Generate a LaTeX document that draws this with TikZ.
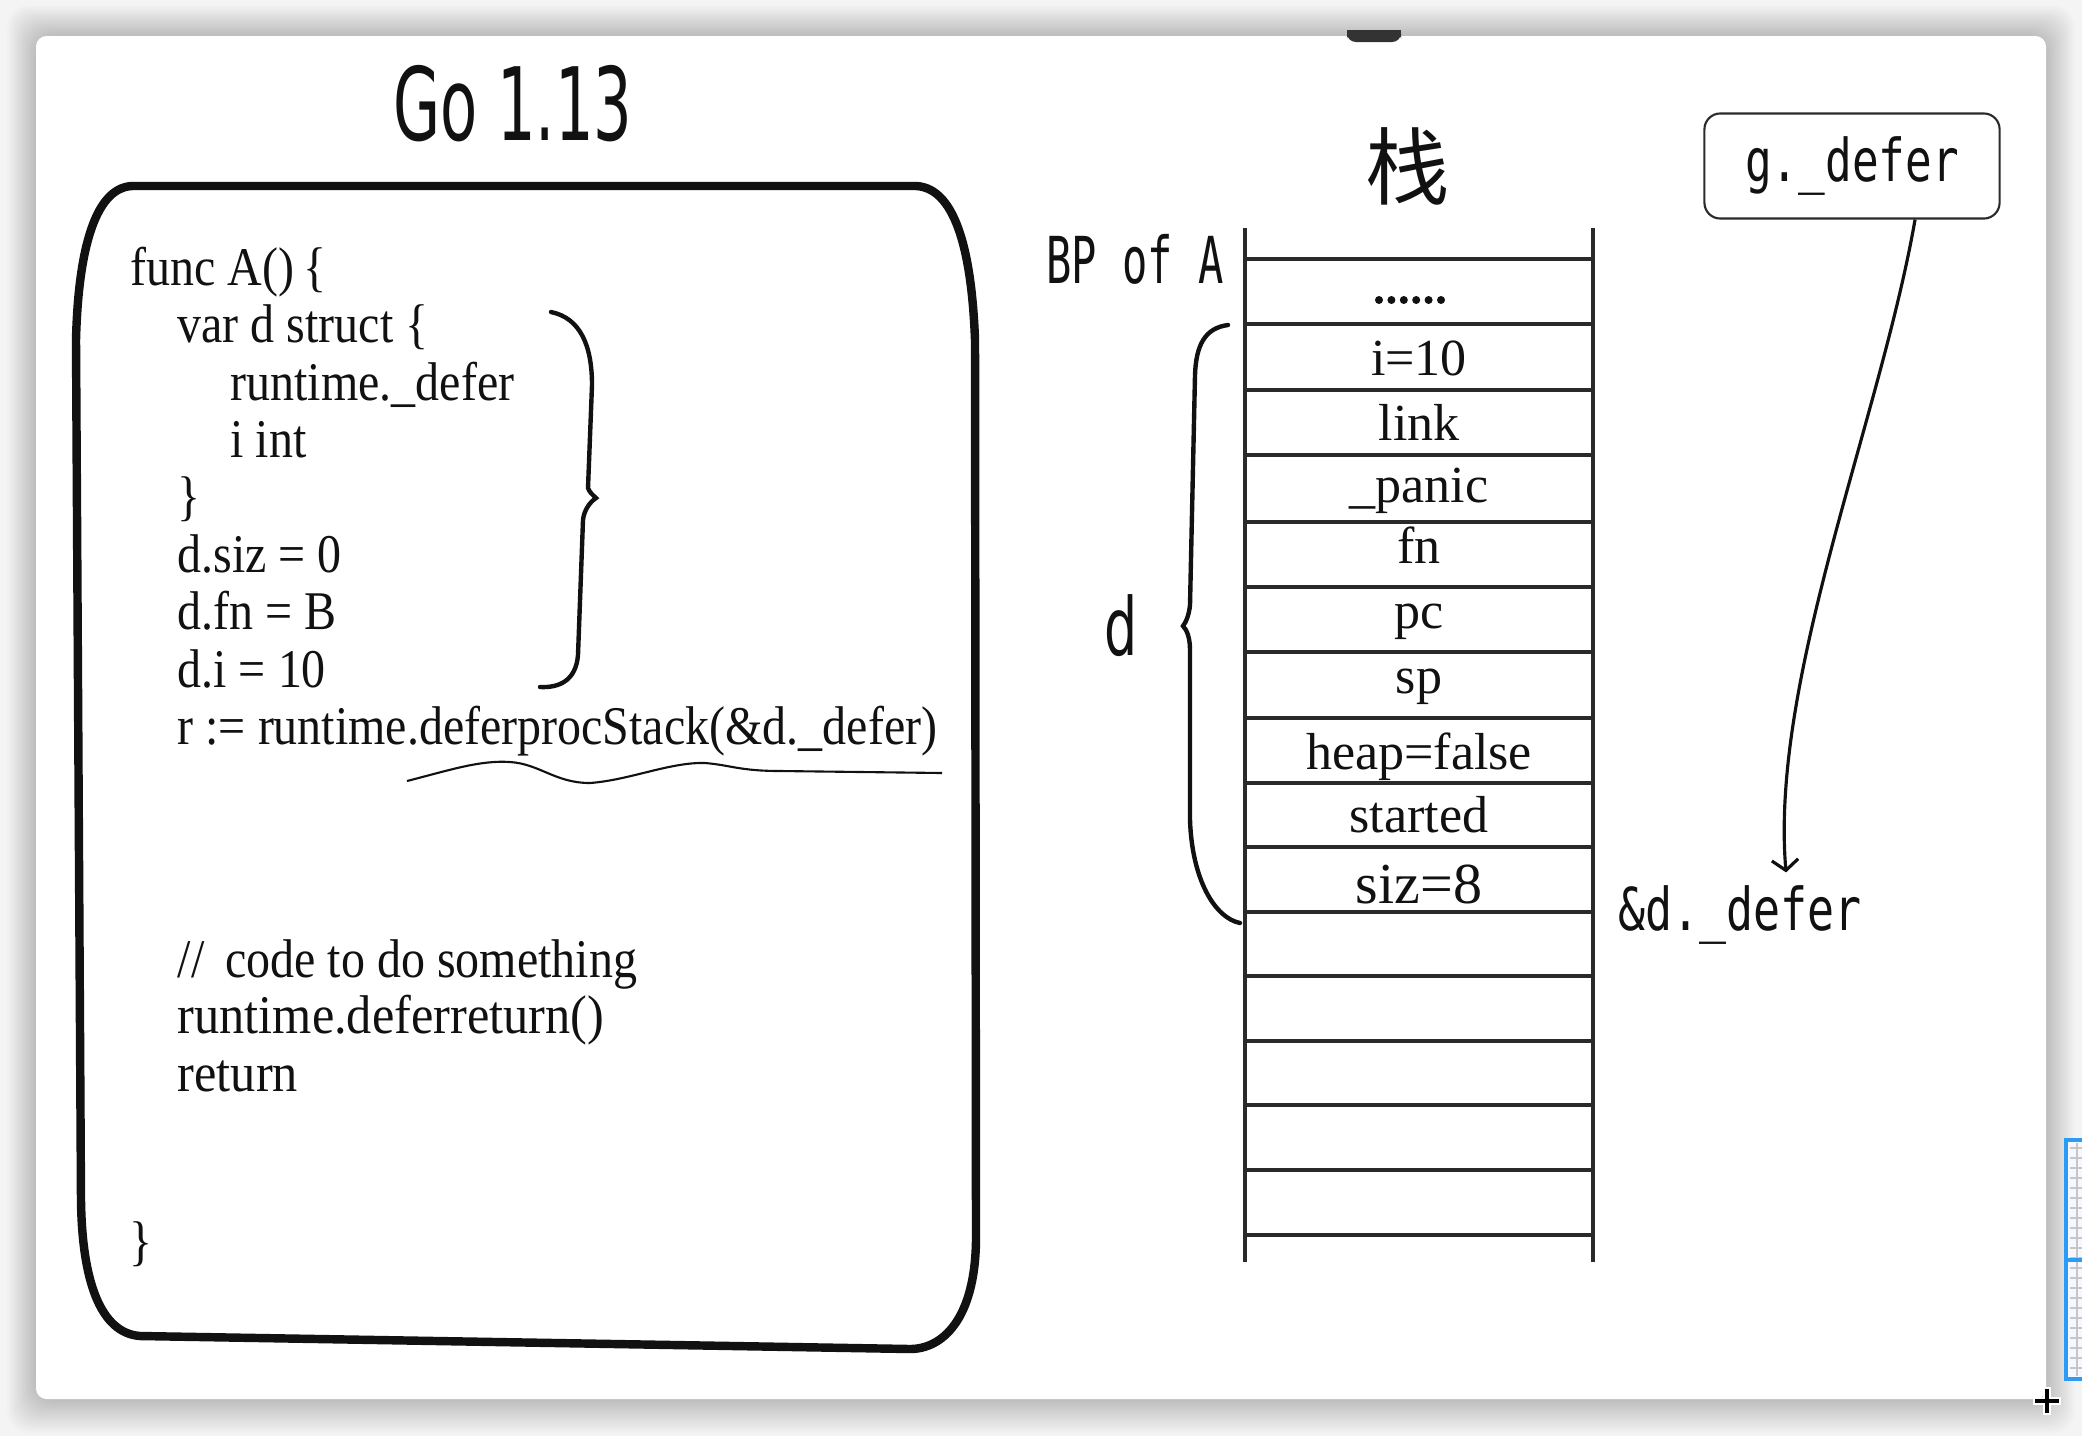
\documentclass[tikz,border=0pt]{standalone}
\usepackage{fontspec}
\setmainfont{Liberation Serif}
\newfontfamily\codefont[FakeStretch=0.88]{Liberation Serif}
\newfontfamily\cellfont{Liberation Serif}
\newfontfamily\handmono{DejaVu Sans Mono}
\newfontfamily\handsans{DejaVu Sans}
\newfontfamily\cjk{Noto Sans CJK SC}
\usetikzlibrary{arrows.meta}
\definecolor{bggray}{HTML}{F4F4F4}
\definecolor{ink}{HTML}{111111}
\definecolor{stackink}{HTML}{2A2A2A}
\definecolor{uiblue}{HTML}{2C9BF5}
\tikzset{
  codeline/.style={anchor=base west,inner sep=0pt,text=ink,font=\codefont\fontsize{15.5pt}{18pt}\selectfont},
  celltext/.style={anchor=base,inner sep=0pt,text=ink,font=\cellfont\fontsize{14.8pt}{17pt}\selectfont},
  handtext/.style={inner sep=0pt,text=ink},
  stackline/.style={draw=stackink,line width=1pt},
  stackside/.style={draw=stackink,line width=1.15pt},
  bracestyle/.style={draw=ink,line width=1.25pt,line cap=round},
  codebox/.style={draw=ink,line width=2.4pt,line join=round},
}
\begin{document}
\begin{tikzpicture}[x=0.01cm,y=-0.01cm]
\useasboundingbox (0,0) rectangle (2082,1436);
% screenshot background and card
\fill[bggray] (0,0) rectangle (2082,1436);
\foreach \i in {1,...,18}{
  \fill[black,opacity=0.012,rounded corners=6pt] (36-\i*1.6,36-\i*1.7) rectangle (2046+\i*1.6,1399+\i*1.9);
}
\fill[white,rounded corners=3pt] (36,36) rectangle (2046,1399);
\fill[black!80,rounded corners=2.5pt] (1347,30) rectangle (1401,42);
\fill[black!80] (1347,30) rectangle (1401,37);
% blue UI sliver
\fill[blue!3] (2066,1140) rectangle (2090,1379);
\foreach \k in {0,...,23}{ \draw[gray!45,line width=0.5pt] (2070,1148+\k*10) -- (2082,1148+\k*10); }
\draw[gray!45,line width=0.6pt] (2077,1143) -- (2077,1376);
\draw[uiblue,line width=1.2pt] (2090,1140) -- (2066,1140) -- (2066,1379) -- (2090,1379);
\draw[uiblue,line width=1pt] (2066,1260) -- (2082,1260);
% cursor
\draw[white,line width=2.2pt] (2033,1401) -- (2061,1401) (2047,1387) -- (2047,1415);
\draw[black,line width=0.9pt] (2035,1401) -- (2059,1401) (2047,1389) -- (2047,1413);

% title
\node[handtext,anchor=base,font=\handsans\fontsize{28.8pt}{30pt}\selectfont] (title) at (513,140) {\scalebox{0.6}[1]{Go 1.13}};

% code box
\draw[codebox] (132,186) -- (916,186)
  .. controls (958,188) and (972,260) .. (975,340)
  -- (976,1240)
  .. controls (975,1320) and (942,1349) .. (910,1349)
  -- (140,1336)
  .. controls (100,1333) and (82,1280) .. (81,1200)
  -- (76,340)
  .. controls (78,260) and (92,188) .. cycle;

% code lines
\node[codeline] (c1) at (130,285) {func A()\,\{};
\node[codeline] (c2) at (177,342) {var d struct \{};
\node[codeline] (c3) at (230,400) {runtime.\_defer};
\node[codeline] (c4) at (230,457) {i int};
\node[codeline] (c5) at (177,514) {\}};
\node[codeline] (c6) at (177,572) {d.siz = 0};
\node[codeline] (c7) at (177,629) {d.fn = B};
\node[codeline] (c8) at (177,687) {d.i = 10};
\node[codeline] (c9) at (177,744) {r := runtime.deferprocStack(\&d.\_defer)};
\node[codeline] (c10) at (177,977) {//\, code to do something};
\node[codeline] (c11) at (177,1033) {\scalebox{1.05}[1]{runtime.deferreturn()}};
\node[codeline] (c12) at (177,1091) {\scalebox{1.05}[1]{return}};
\node[codeline] (c13) at (129,1259) {\}};

% brace beside struct code
\draw[bracestyle] (551,312) .. controls (580,318) and (592,345) .. (592,385)
  -- (588,488) .. controls (589,492) and (594,496) .. (596,498)
  .. controls (590,502) and (584,510) .. (583,520)
  -- (578,655) .. controls (576,680) and (560,688) .. (540,687);

% wavy underline
\draw[draw=ink,line width=0.6pt] (407,781) .. controls (450,770) and (480,760) .. (510,762)
  .. controls (540,764) and (555,783) .. (590,783)
  .. controls (630,780) and (670,762) .. (705,763)
  .. controls (730,765) and (740,771) .. (780,771) -- (942,773);

% stack
\node[handtext,font=\cjk\fontsize{24pt}{26pt}\selectfont] (stacklabel) at (1408,166) {栈};
\draw[stackside] (1245,228) -- (1245,1262);
\draw[stackside] (1593,228) -- (1593,1262);
\foreach \y in {259,324,390,455,522,587,652,718,783,847,912,976,1041,1105,1170,1235}{
  \draw[stackline] (1247,\y) -- (1591,\y);
}
\foreach \k in {0,...,5}{ \fill[ink] (1379+\k*12.4,300) circle (4); }
\node[celltext] (s1) at (1419,375) {i=10};
\node[celltext] (s2) at (1419,440) {link};
\node[celltext] (s3) at (1419,502) {\_panic};
\node[celltext] (s4) at (1419,563) {fn};
\node[celltext] (s5) at (1419,628) {pc};
\node[celltext] (s6) at (1419,693) {sp};
\node[celltext] (s7) at (1419,769) {heap=false};
\node[celltext] (s8) at (1419,832) {started};
\node[celltext,font=\cellfont\fontsize{16.5pt}{18pt}\selectfont] (s9) at (1419,903) {siz=8};

\node[handtext,anchor=base,font=\handmono\fontsize{18.4pt}{20pt}\selectfont] (bp) at (1135,283) {\scalebox{0.65}[1]{BP of A}};
\node[handtext,anchor=base,font=\handsans\fontsize{22.8pt}{24pt}\selectfont] (dlabel) at (1121,655) {\scalebox{0.65}[1]{d}};

% brace for d
\draw[bracestyle] (1228,325) .. controls (1205,328) and (1196,345) .. (1195,375)
  -- (1190,605) .. controls (1189,615) and (1186,622) .. (1183,626)
  .. controls (1187,630) and (1190,638) .. (1190,650)
  -- (1190,820) .. controls (1192,880) and (1215,918) .. (1240,923);

% g._defer box and arrow
\node[draw=stackink,line width=0.6pt,rounded corners=4.5pt,minimum width=2.95cm,minimum height=1.05cm,inner sep=0pt,
  font=\handmono\fontsize{16.8pt}{18pt}\selectfont,text=ink] (gbox) at (1852,166) {\scalebox{0.75}[1]{g.\_defer}};
\node[handtext,anchor=base,font=\handmono\fontsize{16.8pt}{18pt}\selectfont] (addr) at (1740,930) {\scalebox{0.76}[1]{\&d.\_defer}};
\draw[draw=ink,line width=0.9pt,-{Straight Barb[length=3pt,width=7.5pt]}]
  ([xshift=0.63cm]gbox.south) .. controls (1880,420) and (1770,680) .. ([xshift=0.46cm,yshift=0.12cm]addr.north);
\end{tikzpicture}
\end{document}
